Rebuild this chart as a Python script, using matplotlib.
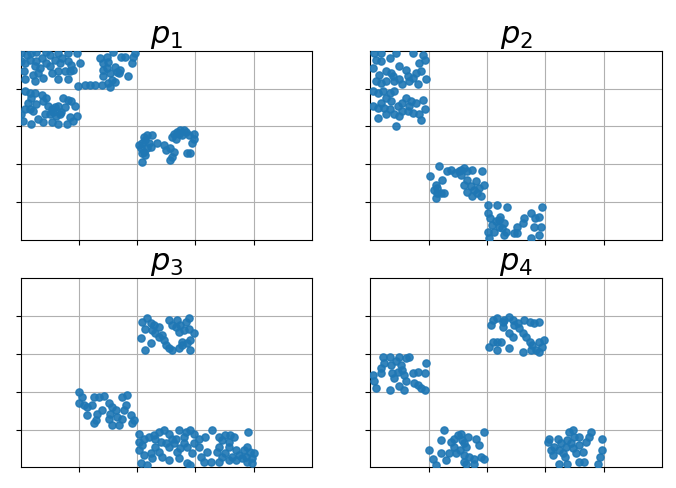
import matplotlib
matplotlib.use("Agg")
import matplotlib.pyplot as plt

titles = ["$p_1$", "$p_2$", "$p_3$", "$p_4$"]

# point coordinates (x, y) for each panel; y is measured downward (row 0 at top)
p1_x = [0.01, 0.10, 0.18, 0.27, 0.44, 0.50, 0.64, 0.82, 0.96, 0.07, 0.16, 0.27, 0.24, 0.33, 0.30, 0.21, 0.07, 0.24, 0.39,
        0.44, 0.50, 0.53, 0.64, 0.67, 0.82, 0.87, 0.90, 0.82, 0.84, 0.64, 0.76, 0.01, 0.59, 0.36, 0.71, 0.05,
        1.02, 1.10, 1.19, 1.28, 1.36, 1.42, 1.48, 1.50, 1.48, 1.53, 1.42, 1.39, 1.50, 1.56, 1.62, 1.65, 1.62, 1.68,
        1.70, 1.73, 1.79, 1.85, 1.91, 1.93, 1.96, 1.59, 1.42, 1.53, 0.99,
        0.07, 0.16, 0.24, 0.36, 0.44, 0.18, 0.39, 0.07, 0.16, 0.21, 0.47, 0.53, 0.59, 0.64, 0.56, 0.50, 0.61, 0.67,
        0.70, 0.73, 0.82, 0.87, 0.93, 0.96, 0.90, 0.84, 0.64, 0.53, 0.39, 0.30, 0.18, 0.04, 0.01, 0.76, 0.27, 0.13,
        0.41, 0.79,
        2.03, 2.09, 2.11, 2.14, 2.17, 2.26, 2.20, 2.23, 2.11, 2.09, 2.14, 2.09, 2.34, 2.46, 2.49, 2.57, 2.63, 2.60,
        2.57, 2.63, 2.69, 2.74, 2.80, 2.83, 2.77, 2.89, 2.97, 2.97, 2.94, 2.91, 2.86, 2.71, 2.60, 2.66, 2.06, 2.17]
p1_y = [0.06, 0.11, 0.06, 0.04, 0.04, 0.11, 0.06, 0.06, 0.06, 0.32, 0.24, 0.28, 0.41, 0.46, 0.59, 0.63, 0.76, 0.81, 0.72,
        0.32, 0.41, 0.59, 0.54, 0.32, 0.28, 0.37, 0.50, 0.76, 0.54, 0.76, 0.54, 0.28, 0.24, 0.19, 0.19, 0.54,
        0.33, 0.90, 0.90, 0.90, 0.20, 0.33, 0.16, 0.29, 0.46, 0.60, 0.68, 0.90, 0.86, 0.77, 0.82, 0.55, 0.42, 0.60,
        0.51, 0.16, 0.16, 0.68, 0.33, 0.16, 0.07, 0.03, 0.51, 0.95, 0.94,
        1.07, 1.11, 1.11, 1.16, 1.24, 1.24, 1.33, 1.55, 1.55, 1.59, 1.46, 1.55, 1.50, 1.46, 1.63, 1.68, 1.72, 1.68,
        1.63, 1.24, 1.29, 1.33, 1.46, 1.72, 1.85, 1.76, 1.94, 1.89, 1.89, 1.80, 1.94, 1.85, 1.68, 1.50, 1.42, 1.37,
        1.68, 1.94,
        2.50, 2.45, 2.28, 2.37, 2.23, 2.23, 2.45, 2.54, 2.67, 2.71, 2.76, 2.93, 2.45, 2.50, 2.63, 2.58, 2.67, 2.80,
        2.89, 2.19, 2.15, 2.10, 2.10, 2.15, 2.23, 2.23, 2.19, 2.32, 2.45, 2.71, 2.71, 2.19, 2.28, 2.32, 2.58, 2.58]

p2_x = [0.07, 0.18, 0.44, 0.73, 0.90, 0.84, 0.93, 0.10, 0.18, 0.33, 0.50, 0.61, 0.27, 0.35, 0.15, 0.10, 0.18, 0.27,
        0.41, 0.50, 0.55, 0.67, 0.73, 0.78, 0.87, 0.95, 0.81, 0.64, 0.39, 0.04,
        0.04, 0.13, 0.21, 0.33, 0.41, 0.27, 0.35, 0.18, 0.04, 0.13, 0.24, 0.33, 0.47, 0.55, 0.61, 0.70, 0.78, 0.90,
        0.93, 0.84, 0.73, 0.64, 0.50, 0.41, 0.27, 0.13, 0.44, 0.67, 0.55, 0.87,
        1.03, 1.12, 1.09, 1.15, 1.12, 1.18, 1.26, 1.23, 1.32, 1.38, 1.46, 1.52, 1.55, 1.61, 1.66, 1.75, 1.92, 1.81,
        1.66, 1.61, 1.72, 1.78, 1.83, 1.89, 1.95, 1.66, 1.75, 1.86, 1.55, 1.15, 1.21,
        2.01, 2.18, 2.35, 2.01, 2.06, 2.15, 2.23, 2.29, 2.21, 2.12, 2.01, 2.32, 2.46, 2.52, 2.63, 2.61, 2.75, 2.83,
        2.89, 2.95, 2.92, 2.81, 2.89, 2.75, 2.26, 2.21, 2.09, 2.29, 2.03, 2.52]
p2_y = [0.06, 0.06, 0.06, 0.06, 0.11, 0.32, 0.24, 0.24, 0.28, 0.19, 0.41, 0.50, 0.54, 0.59, 0.63, 0.81, 0.85, 0.81,
        0.81, 0.76, 0.89, 0.81, 0.72, 0.59, 0.54, 0.76, 0.89, 0.68, 0.68, 0.46,
        1.07, 1.11, 1.07, 1.11, 1.07, 1.25, 1.33, 1.38, 1.46, 1.51, 1.51, 1.55, 1.46, 1.38, 1.25, 1.33, 1.38, 1.29,
        1.55, 1.68, 1.64, 1.60, 1.73, 1.68, 1.68, 1.77, 1.99, 1.46, 1.60, 1.82,
        3.32, 3.54, 3.67, 3.76, 3.89, 3.05, 3.76, 3.41, 3.19, 3.14, 3.23, 3.19, 3.27, 3.10, 3.19, 3.14, 3.19, 3.45,
        3.41, 3.54, 3.58, 3.67, 3.76, 3.85, 3.54, 3.72, 3.85, 3.63, 3.14, 3.63, 3.76,
        4.07, 4.07, 4.12, 4.29, 4.42, 4.51, 4.38, 4.56, 4.65, 4.78, 4.78, 4.78, 4.82, 4.82, 4.42, 4.56, 4.29, 4.42,
        4.38, 4.12, 4.65, 4.65, 4.87, 4.96, 4.69, 4.47, 4.60, 4.87, 4.96, 4.65]

p3_x = [2.09, 2.17, 2.23, 2.29, 2.14, 2.26, 2.31, 2.37, 2.46, 2.49, 2.43, 2.06, 2.23, 2.14, 2.54, 2.60, 2.69, 2.74,
        2.83, 2.89, 2.89, 2.80, 2.71, 2.66, 2.97, 2.91, 2.86, 2.77, 2.71, 2.60, 2.91, 2.77, 2.54, 2.37,
        1.00, 1.06, 1.00, 1.09, 1.14, 1.23, 1.26, 1.34, 1.43, 1.14, 1.31, 1.29, 1.26, 1.51, 1.57, 1.63, 1.54, 1.51,
        1.57, 1.69, 1.74, 1.77, 1.80, 1.83, 1.74, 1.89, 1.94, 1.91, 1.66, 1.40,
        2.03, 2.11, 2.20, 2.29, 2.37, 2.46, 2.54, 2.60, 2.71, 2.83, 2.91, 2.97, 2.09, 2.03, 2.11, 2.23, 2.26, 2.06,
        2.17, 2.31, 2.40, 2.49, 2.54, 2.63, 2.69, 2.74, 2.80, 2.86, 2.97, 2.94, 2.86, 2.91, 2.54, 2.43, 2.66, 2.31,
        2.80, 2.03, 2.71, 2.37,
        3.06, 3.06, 3.17, 3.20, 3.29, 3.40, 3.46, 3.51, 3.60, 3.66, 3.57, 3.40, 3.37, 3.46, 3.40, 3.57, 3.69, 3.74,
        3.83, 3.89, 3.91, 3.86, 3.94, 3.97, 4.00, 3.97, 3.80, 3.69, 3.57, 3.26, 3.14, 3.09, 3.51, 3.63, 3.89]
p3_y = [1.15, 1.06, 1.19, 1.24, 1.33, 1.37, 1.46, 1.55, 1.63, 1.77, 1.50, 1.59, 1.72, 1.90, 1.11, 1.24, 1.11, 1.24,
        1.15, 1.06, 1.33, 1.37, 1.41, 1.28, 1.46, 1.63, 1.72, 1.77, 1.85, 1.90, 1.90, 1.68, 1.85, 1.28,
        3.00, 3.13, 3.31, 3.35, 3.40, 3.35, 3.13, 3.13, 3.12, 3.62, 3.58, 3.75, 3.84, 3.31, 3.40, 3.49, 3.58, 3.71,
        3.88, 3.88, 3.71, 3.49, 3.35, 3.09, 3.13, 3.62, 3.75, 3.84, 3.67, 3.49,
        4.11, 4.24, 4.19, 4.15, 4.06, 4.02, 4.11, 4.24, 4.02, 4.06, 4.02, 4.11, 4.41, 4.54, 4.68, 4.63, 4.76, 4.89,
        4.94, 4.46, 4.32, 4.37, 4.46, 4.37, 4.59, 4.50, 4.37, 4.46, 4.37, 4.63, 4.89, 4.94, 4.81, 4.72, 4.24, 4.24,
        4.19, 4.32, 4.76, 4.59,
        4.24, 4.46, 4.19, 4.59, 4.02, 4.19, 4.28, 4.15, 4.15, 4.19, 4.32, 4.46, 4.59, 4.72, 4.85, 4.46, 4.54, 4.68,
        4.54, 4.46, 4.06, 4.72, 4.59, 4.76, 4.63, 4.89, 4.76, 4.81, 4.81, 4.85, 4.85, 4.72, 4.63, 4.72, 4.85]

p4_x = [0.04, 0.07, 0.10, 0.18, 0.18, 0.21, 0.24, 0.33, 0.35, 0.38, 0.41, 0.47, 0.50, 0.55, 0.58, 0.61, 0.67, 0.61,
        0.50, 0.58, 0.33, 0.73, 0.81, 0.75, 0.81, 0.87, 0.93, 0.95, 0.93, 0.53, 0.44,
        2.07, 2.10, 2.18, 2.27, 2.30, 2.38, 2.44, 2.47, 2.38, 2.44, 2.55, 2.61, 2.67, 2.64, 2.73, 2.81, 2.90, 2.73,
        2.78, 2.84, 2.90, 2.98, 2.95, 2.90, 2.75, 2.61, 2.38, 2.18, 2.10, 2.18, 2.24, 2.04, 2.27, 2.53,
        1.01, 1.07, 1.13, 1.21, 1.27, 1.21, 1.30, 1.38, 1.44, 1.47, 1.50, 1.55, 1.58, 1.61, 1.64, 1.67, 1.61, 1.61,
        1.70, 1.78, 1.81, 1.87, 1.90, 1.95, 1.95, 1.78, 1.64, 1.53, 1.35, 1.44,
        3.04, 3.07, 3.10, 3.13, 3.15, 3.21, 3.24, 3.30, 3.35, 3.38, 3.41, 3.47, 3.50, 3.44, 3.47, 3.53, 3.58, 3.64,
        3.67, 3.70, 3.75, 3.78, 3.90, 3.93, 3.98, 3.98, 3.38, 3.24, 3.58, 3.58, 3.33, 3.27]
p4_y = [2.56, 2.73, 2.91, 2.38, 2.51, 2.07, 2.25, 2.07, 2.29, 2.51, 2.64, 2.47, 2.07, 2.42, 2.56, 2.11, 2.07, 2.73,
        2.86, 2.95, 2.95, 2.51, 2.47, 2.78, 2.82, 2.91, 2.95, 2.25, 2.51, 2.29, 2.20,
        1.24, 1.11, 1.06, 1.28, 1.11, 1.02, 1.11, 1.24, 1.46, 1.54, 1.32, 1.46, 1.54, 1.11, 1.15, 1.19, 1.15, 1.68,
        1.76, 1.89, 1.68, 1.63, 1.81, 1.94, 1.89, 1.94, 1.85, 1.89, 1.68, 1.68, 1.68, 1.81, 1.15, 1.19,
        4.55, 4.77, 4.94, 4.28, 4.02, 4.63, 4.81, 4.33, 4.46, 4.63, 4.15, 4.11, 4.28, 4.37, 4.46, 4.19, 4.68, 4.85,
        4.72, 4.77, 4.24, 4.41, 4.72, 4.77, 4.06, 4.90, 4.90, 4.55, 4.63, 4.24,
        4.33, 4.24, 4.55, 4.68, 4.46, 4.24, 4.55, 4.63, 4.46, 4.28, 4.06, 4.02, 4.19, 4.37, 4.50, 4.63, 4.41, 4.59,
        4.85, 4.33, 4.19, 4.06, 4.90, 4.72, 4.55, 4.24, 4.90, 4.90, 4.85, 4.19, 4.72, 4.37]

grid_ticks = [1, 2, 3, 4]
xs = [p1_x, p2_x, p3_x, p4_x]
ys = [p1_y, p2_y, p3_y, p4_y]

W, H = 676, 488
fig = plt.figure(figsize=(W / 100, H / 100), dpi=100)
boxes = [(20.7, 50.7, 312.0, 240.0), (370.3, 50.7, 662.0, 240.0),
         (20.7, 278.3, 312.0, 467.3), (370.3, 278.3, 662.0, 467.3)]
for i, (l, t, r, b) in enumerate(boxes):
    ax = fig.add_axes([l / W, 1 - b / H, (r - l) / W, (b - t) / H])
    ax.scatter(xs[i], ys[i], s=27, color="#1f77b4", alpha=0.9, zorder=3)
    ax.set_xlim(0, 5)
    ax.set_ylim(5, 0)
    ax.set_xticks(grid_ticks)
    ax.set_yticks(grid_ticks)
    ax.set_xticklabels([])
    ax.set_yticklabels([])
    ax.grid(True)
    ax.set_axisbelow(True)
    ax.set_title(titles[i], fontsize=22, pad=4)

fig.savefig("out.png", dpi=100)
